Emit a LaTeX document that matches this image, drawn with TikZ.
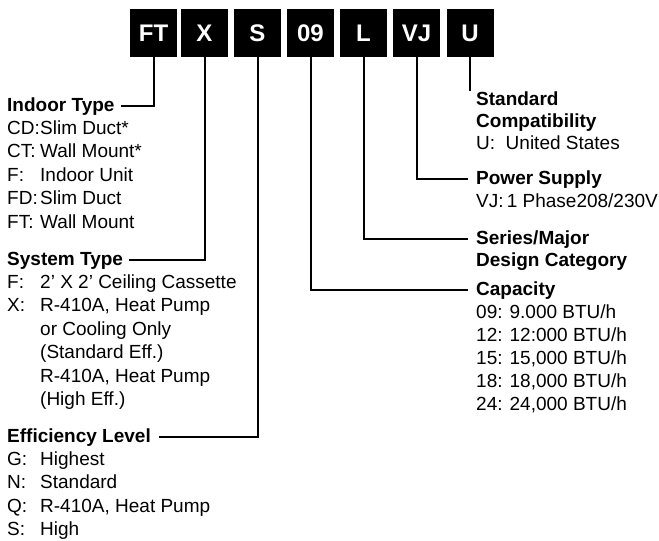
\documentclass[tikz,border=0pt]{standalone}
\usepackage{fontspec}
\setmainfont{Liberation Sans}
\newcommand\itemfont{\fontsize{19}{22}\selectfont}
\newcommand\kv[2]{\makebox[33pt][l]{#1}#2}
\tikzset{
  codebox/.style={fill=black, text=white, minimum width=47pt, minimum height=48pt,
    inner sep=0pt, font=\fontsize{24}{28}\selectfont\bfseries},
  item/.style={anchor=base west, inner sep=0pt, font=\itemfont},
  head/.style={item, font=\itemfont\bfseries},
  conn/.style={line width=2pt},
}
\begin{document}
\begin{tikzpicture}[x=1pt, y=-1pt]
\useasboundingbox (0,0) rectangle (659,541);
% code boxes
\foreach \code/\cx in {FT/153.5, X/204.5, S/257.5, 09/310.5, L/363.5, VJ/416.5, U/470}
  \node[codebox] (b\code) at (\cx,33) {\code};
% left column
\node[head] (hInd) at (7,111) {Indoor Type};
\foreach \txt [count=\i] in {{\kv{CD:}{Slim Duct*}}, {\kv{CT:}{Wall Mount*}},
    {\kv{F:}{Indoor Unit}}, {\kv{FD:}{Slim Duct}}, {\kv{FT:}{Wall Mount}}}
  \node[item] (ind\i) at (7,111+23.4*\i) {\txt};
\node[head] (hSys) at (7,265) {System Type};
\foreach \txt [count=\i] in {{\kv{F:}{2’ X 2’ Ceiling Cassette}}, {\kv{X:}{R-410A, Heat Pump}},
    {\kv{}{or Cooling Only}}, {\kv{}{(Standard Eff.)}}, {\kv{}{R-410A, Heat Pump}}, {\kv{}{(High Eff.)}}}
  \node[item] (sys\i) at (7,265+23.4*\i) {\txt};
\node[head] (hEff) at (7,442) {Efficiency Level};
\foreach \txt [count=\i] in {{\kv{G:}{Highest}}, {\kv{N:}{Standard}},
    {\kv{Q:}{R-410A, Heat Pump}}, {\kv{S:}{High}}}
  \node[item] (eff\i) at (7,442+23.4*\i) {\txt};
% right column
\node[head] (hStd) at (476,105) {Standard};
\node[head] (hStd2) at (476,127) {Compatibility};
\node[item] (std1) at (476,149) {U:\ \ United States};
\node[head] (hPow) at (476,184) {Power Supply};
\node[item] (pow1) at (476,207) {VJ:\,1 Phase208/230V};
\node[head] (hSer) at (476,244) {Series/Major};
\node[head] (hSer2) at (476,266) {Design Category};
\node[head] (hCap) at (476,295) {Capacity};
\foreach \txt [count=\i] in {09: 9.000 BTU/h, 12: 12:000 BTU/h, {15: 15,000 BTU/h},
    {18: 18,000 BTU/h}, {24: 24,000 BTU/h}}
  \node[item] (cap\i) at (476,295+23*\i) {\txt};
% connectors
\draw[conn, shorten >=6pt] (bFT.south) |- (hInd.east);
\draw[conn, shorten >=6pt] (bX.south) |- (hSys.east);
\draw[conn, shorten >=8pt] (bS.south) |- (hEff.east);
\draw[conn, shorten >=8pt] (b09.south) |- (hCap.west);
\draw[conn, shorten >=8pt] (bL.south) |- (hSer.west);
\draw[conn, shorten >=8pt] (bVJ.south) |- (hPow.west);
\draw[conn] (bU.south) -- (bU.south |- hStd.north);
\end{tikzpicture}
\end{document}
